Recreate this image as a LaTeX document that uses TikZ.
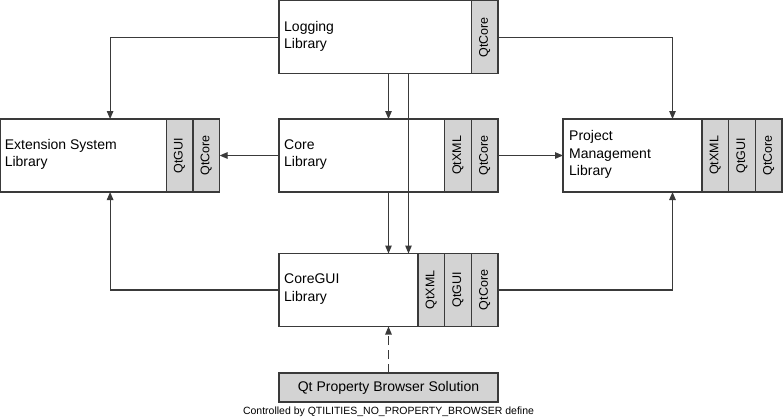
\documentclass[tikz,border=0pt]{standalone}
\usepackage{fontspec}
\setmainfont{Liberation Sans}
\usetikzlibrary{arrows.meta,calc}
\definecolor{linecol}{HTML}{3A3A3A}
\definecolor{qtgray}{HTML}{D3D3D3}
\begin{document}
\begin{tikzpicture}[x=1pt,y=-1pt,
  box/.style={draw=linecol, line width=1.2pt, minimum width=219pt, minimum height=73pt, inner sep=0pt, outer sep=0pt, anchor=north west},
  qtstrip/.style={draw=linecol, fill=qtgray, line width=1.2pt, minimum width=26.7pt, minimum height=73pt, inner sep=0pt, outer sep=0pt, anchor=north east},
  qtlbl/.style={rotate=90, font=\fontsize{12.5}{14}\selectfont, inner sep=0pt},
  lbl/.style={anchor=west, align=left, font=\fontsize{14}{17.5}\selectfont, inner sep=0pt},
  conn/.style={draw=linecol, line width=1.1pt, -{Triangle[length=8pt,width=6.5pt]}},
  plain/.style={draw=linecol, line width=1.1pt}
]
\useasboundingbox (0,0) rectangle (784,420);
% boxes
\node[box] (log) at (279,0.8) {};
\node[box] (ext) at (0.6,119) {};
\node[box] (core) at (279,119) {};
\node[box] (proj) at (563,119) {};
\node[box] (gui) at (279,253.5) {};
\node[box, fill=qtgray, minimum height=29pt] (prop) at (279,373) {};
% qt strips
\node[qtstrip] (logc) at (log.north east) {};
\node[qtstrip] (extc) at (ext.north east) {};
\node[qtstrip] (extg) at (extc.north west) {};
\node[qtstrip] (corec) at (core.north east) {};
\node[qtstrip] (corex) at (corec.north west) {};
\node[qtstrip] (projc) at (proj.north east) {};
\node[qtstrip] (projg) at (projc.north west) {};
\node[qtstrip] (projx) at (projg.north west) {};
\node[qtstrip] (guic) at (gui.north east) {};
\node[qtstrip] (guig) at (guic.north west) {};
\node[qtstrip] (guix) at (guig.north west) {};
\node[qtlbl] (logcl) at (logc) {QtCore};
\node[qtlbl] (extcl) at (extc) {QtCore};
\node[qtlbl] (extgl) at (extg) {QtGUI};
\node[qtlbl] (corecl) at (corec) {QtCore};
\node[qtlbl] (corexl) at (corex) {QtXML};
\node[qtlbl] (projcl) at (projc) {QtCore};
\node[qtlbl] (projgl) at (projg) {QtGUI};
\node[qtlbl] (projxl) at (projx) {QtXML};
\node[qtlbl] (guicl) at (guic) {QtCore};
\node[qtlbl] (guigl) at (guig) {QtGUI};
\node[qtlbl] (guixl) at (guix) {QtXML};
% labels
\node[lbl] (logl) at ([xshift=5pt,yshift=1pt]log.west) {Logging\\Library};
\node[lbl] (extl) at ([xshift=4pt,yshift=1pt]ext.west) {Extension System\\Library};
\node[lbl] (corel) at ([xshift=5pt,yshift=1pt]core.west) {Core\\Library};
\node[lbl] (projl) at ([xshift=6pt,yshift=1pt]proj.west) {Project\\Management\\Library};
\node[lbl] (guil) at ([xshift=5pt,yshift=1pt]gui.west) {CoreGUI\\Library};
\node[font=\fontsize{14}{17}\selectfont, inner sep=0pt] (propl) at (prop) {Qt Property Browser Solution};
\node[font=\fontsize{10.5}{12}\selectfont, inner sep=0pt] (cap) at (388.5,412) {Controlled by QTILITIES\_NO\_PROPERTY\_BROWSER define};
% connectors
\draw[conn] (log.west) -| (ext.north);
\draw[conn] (log.east) -| (proj.north);
\draw[conn] (log.south) -- (core.north);
\draw[conn] (core.south) -- (gui.north);
\draw[conn] ([xshift=20pt]log.south) -- ([xshift=20pt]gui.north);
\draw[conn] (core.west) -- (ext.east);
\draw[conn] (core.east) -- (proj.west);
\draw[conn] (gui.west) -| (ext.south);
\draw[conn] (gui.east) -| (proj.south);
\draw[conn, dash pattern=on 9pt off 5pt] (prop.north) -- (gui.south);
\end{tikzpicture}
\end{document}
